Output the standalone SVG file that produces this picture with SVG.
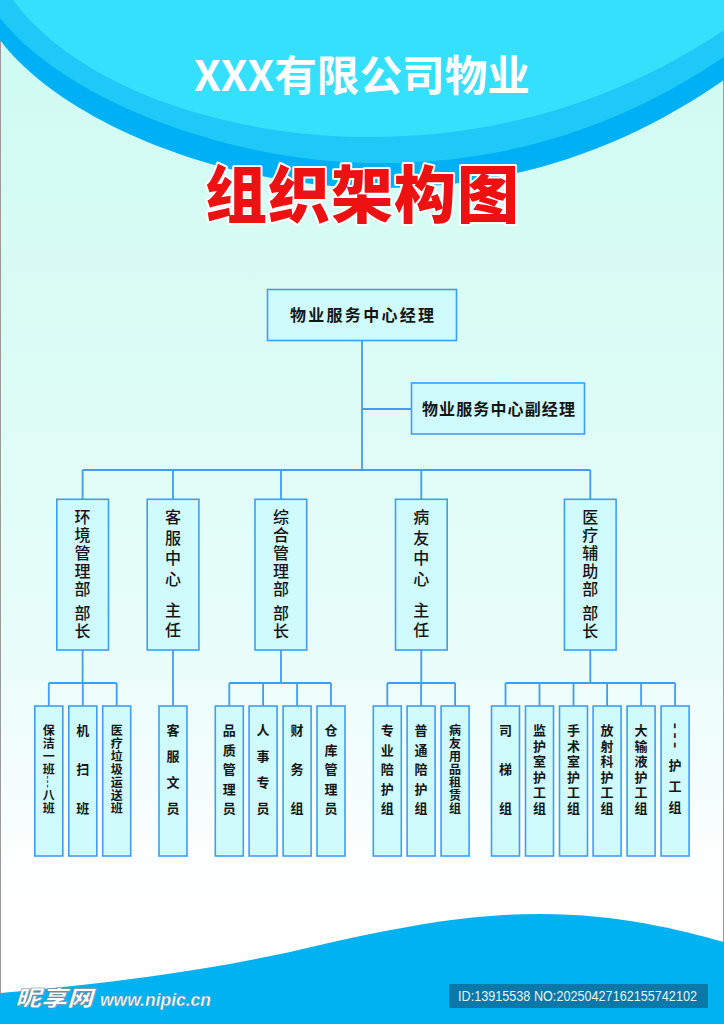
<svg xmlns="http://www.w3.org/2000/svg" width="724" height="1024" viewBox="0 0 724 1024">
<defs>
<linearGradient id="bg" x1="0" y1="0" x2="0" y2="1024" gradientUnits="userSpaceOnUse">
<stop offset="0" stop-color="#cdfbf1"/>
<stop offset="0.6" stop-color="#e6fdf9"/>
<stop offset="0.88" stop-color="#ffffff"/>
</linearGradient>
<style>
.box{fill:#d0fbfd;stroke:#3f9ef4;stroke-width:1.6}
.ln{fill:none;stroke:#3f9ef4;stroke-width:1.8}
.t1{font-family:"Noto Sans CJK SC","Liberation Sans",sans-serif;font-size:16px;font-weight:bold;fill:#151515}
.t2{font-family:"Noto Sans CJK SC","Liberation Sans",sans-serif;font-size:16px;font-weight:500;fill:#151515;text-anchor:middle}
.t3{font-family:"Noto Sans CJK SC","Liberation Sans",sans-serif;font-size:13px;font-weight:bold;fill:#151515;text-anchor:middle}
.t3s{font-family:"Noto Sans CJK SC","Liberation Sans",sans-serif;font-size:12px;font-weight:bold;fill:#151515;text-anchor:middle}
.dash{font-family:"Liberation Sans",sans-serif;font-weight:normal;fill:#151515;text-anchor:middle}
</style>
</defs>
<rect x="0" y="0" width="724" height="1024" fill="url(#bg)"/>
<rect x="0.5" y="0.5" width="723" height="1023" fill="none" stroke="#9a9a9a" stroke-width="1"/>
<!-- top decoration -->
<path d="M0,0 L0,40 C60,120 220,188 380,188 C520,188 630,145 724,80 L724,0 Z" fill="#00b0f4"/>
<path d="M0,0 L0,18 C60,95 220,163 380,163 C520,163 630,120 724,57 L724,0 Z" fill="#1ec9f8"/>
<path d="M13,0 C80,90 230,137 370,137 C500,137 620,100 724,30 L724,0 Z" fill="#35e0fc"/>
<text x="194" y="91" textLength="336" lengthAdjust="spacingAndGlyphs" font-family="Noto Sans CJK SC, Liberation Sans, sans-serif" font-size="42" font-weight="bold" fill="#ffffff">XXX有限公司物业</text>
<text x="205" y="218" textLength="314" lengthAdjust="spacing" font-family="Noto Sans CJK SC, sans-serif" font-size="62" font-weight="900" fill="#ee1111" stroke="#ffffff" stroke-width="4" paint-order="stroke" stroke-linejoin="round">组织架构图</text>
<!-- bottom decoration -->
<path d="M0,993 C150,980 250,962 320,945 C420,922 480,914 540,914 C620,914 680,930 724,942 L724,1024 L0,1024 Z" fill="#00b2f2"/>
<text x="15" y="1006" font-family="Noto Sans CJK SC, sans-serif" font-size="22" font-weight="900" fill="#ffffff" stroke="#6f8a99" stroke-width="0.6" font-style="italic" textLength="78" lengthAdjust="spacingAndGlyphs">昵享网</text>
<text x="100" y="1006" font-family="Liberation Sans, sans-serif" font-size="19" font-weight="bold" font-style="italic" fill="#ffffff" stroke="#6f8a99" stroke-width="0.4" textLength="111" lengthAdjust="spacingAndGlyphs">www.nipic.cn</text>
<rect x="449" y="984" width="259" height="24" rx="1" fill="#0a78a8"/>
<text x="458" y="1001" font-family="Liberation Sans, sans-serif" font-size="15" fill="#e6f4fa" textLength="239" lengthAdjust="spacingAndGlyphs">ID:13915538 NO:20250427162155742102</text>

<g id="connectors">
<path class="ln" d="M362,340 V470 M362,409 H411 M82.6,470 H590.3 M82.6,470 V499 M173,470 V499 M281,470 V499 M421.3,470 V499 M590.3,470 V499"/>
<path class="ln" d="M82.6,650 V683 M173,650 V706 M281,650 V683 M421.3,650 V683 M590.3,650 V683"/>
<path class="ln" d="M48.8,683 H116.7 M48.8,683 V706 M82.8,683 V706 M116.7,683 V706"/>
<path class="ln" d="M229.3,683 H331 M229.3,683 V706 M263.1,683 V706 M297.1,683 V706 M331,683 V706"/>
<path class="ln" d="M387.3,683 H455.1 M387.3,683 V706 M421.1,683 V706 M455.1,683 V706"/>
<path class="ln" d="M505.5,683 H675.1 M505.5,683 V706 M539.5,683 V706 M573.5,683 V706 M607.1,683 V706 M641.1,683 V706 M675.1,683 V706"/>
</g>

<g id="manager">
<rect class="box" x="267.5" y="289.5" width="189" height="51"/>
<text class="t1" x="290" y="321" textLength="144" lengthAdjust="spacing">物业服务中心经理</text>
</g>
<g id="vice-manager">
<rect class="box" x="411.5" y="383" width="173" height="51"/>
<text class="t1" x="422" y="415" textLength="153" lengthAdjust="spacing">物业服务中心副经理</text>
</g>

<g id="dept-env">
<rect class="box" x="56.8" y="499.3" width="51.7" height="150.7"/>
<text class="t2"><tspan x="82.6" y="523">环</tspan><tspan x="82.6" y="541">境</tspan><tspan x="82.6" y="559">管</tspan><tspan x="82.6" y="577">理</tspan><tspan x="82.6" y="595">部</tspan><tspan x="82.6" y="619">部</tspan><tspan x="82.6" y="637">长</tspan></text>
</g>
<g id="dept-service">
<rect class="box" x="147.2" y="499.3" width="51.7" height="150.7"/>
<text class="t2"><tspan x="173" y="523">客</tspan><tspan x="173" y="543.5">服</tspan><tspan x="173" y="564">中</tspan><tspan x="173" y="584.5">心</tspan><tspan x="173" y="616">主</tspan><tspan x="173" y="636">任</tspan></text>
</g>
<g id="dept-general">
<rect class="box" x="255" y="499.3" width="51.7" height="150.7"/>
<text class="t2"><tspan x="280.9" y="523">综</tspan><tspan x="280.9" y="541">合</tspan><tspan x="280.9" y="559">管</tspan><tspan x="280.9" y="577">理</tspan><tspan x="280.9" y="595">部</tspan><tspan x="280.9" y="619">部</tspan><tspan x="280.9" y="637">长</tspan></text>
</g>
<g id="dept-patient">
<rect class="box" x="395.5" y="499.3" width="51.7" height="150.7"/>
<text class="t2"><tspan x="421.3" y="523">病</tspan><tspan x="421.3" y="543.5">友</tspan><tspan x="421.3" y="564">中</tspan><tspan x="421.3" y="584.5">心</tspan><tspan x="421.3" y="616">主</tspan><tspan x="421.3" y="636">任</tspan></text>
</g>
<g id="dept-medical">
<rect class="box" x="564.4" y="499.3" width="51.7" height="150.7"/>
<text class="t2"><tspan x="590.3" y="523">医</tspan><tspan x="590.3" y="541">疗</tspan><tspan x="590.3" y="559">辅</tspan><tspan x="590.3" y="577">助</tspan><tspan x="590.3" y="595">部</tspan><tspan x="590.3" y="619">部</tspan><tspan x="590.3" y="637">长</tspan></text>
</g>

<!-- level 3 -->
<g id="n-cleaning">
<rect class="box" x="34.8" y="706" width="28" height="150"/>
<text class="t3s"><tspan x="48.8" y="734.5">保</tspan><tspan x="48.8" y="747.5">洁</tspan><tspan x="48.8" y="760.5">一</tspan><tspan x="48.8" y="773.5">班</tspan><tspan x="48.8" y="799.5">八</tspan><tspan x="48.8" y="812.5">班</tspan></text>
<text class="dash" x="48.8" y="785.4" font-size="11" letter-spacing="0.7" transform="rotate(90 48.8 782)">---</text>
</g>
<g id="n-machine">
<rect class="box" x="68.8" y="706" width="28" height="150"/>
<text class="t3"><tspan x="82.8" y="735">机</tspan><tspan x="82.8" y="774">扫</tspan><tspan x="82.8" y="813">班</tspan></text>
</g>
<g id="n-waste">
<rect class="box" x="102.7" y="706" width="28" height="150"/>
<text class="t3s"><tspan x="116.7" y="734.5">医</tspan><tspan x="116.7" y="747.5">疗</tspan><tspan x="116.7" y="760.5">垃</tspan><tspan x="116.7" y="773.5">圾</tspan><tspan x="116.7" y="786.5">运</tspan><tspan x="116.7" y="799.5">送</tspan><tspan x="116.7" y="812.5">班</tspan></text>
</g>
<g id="n-clerk">
<rect class="box" x="159" y="706" width="28" height="150"/>
<text class="t3"><tspan x="173" y="735">客</tspan><tspan x="173" y="761">服</tspan><tspan x="173" y="787">文</tspan><tspan x="173" y="813">员</tspan></text>
</g>
<g id="n-quality">
<rect class="box" x="215.3" y="706" width="28" height="150"/>
<text class="t3"><tspan x="229.3" y="735">品</tspan><tspan x="229.3" y="754.5">质</tspan><tspan x="229.3" y="774">管</tspan><tspan x="229.3" y="793.5">理</tspan><tspan x="229.3" y="813">员</tspan></text>
</g>
<g id="n-hr">
<rect class="box" x="249.1" y="706" width="28" height="150"/>
<text class="t3"><tspan x="263.1" y="735">人</tspan><tspan x="263.1" y="761">事</tspan><tspan x="263.1" y="787">专</tspan><tspan x="263.1" y="813">员</tspan></text>
</g>
<g id="n-finance">
<rect class="box" x="283.1" y="706" width="28" height="150"/>
<text class="t3"><tspan x="297.1" y="735">财</tspan><tspan x="297.1" y="774">务</tspan><tspan x="297.1" y="813">组</tspan></text>
</g>
<g id="n-warehouse">
<rect class="box" x="317" y="706" width="28" height="150"/>
<text class="t3"><tspan x="331" y="735">仓</tspan><tspan x="331" y="754.5">库</tspan><tspan x="331" y="774">管</tspan><tspan x="331" y="793.5">理</tspan><tspan x="331" y="813">员</tspan></text>
</g>
<g id="n-pro-care">
<rect class="box" x="373.3" y="706" width="28" height="150"/>
<text class="t3"><tspan x="387.3" y="735">专</tspan><tspan x="387.3" y="754.5">业</tspan><tspan x="387.3" y="774">陪</tspan><tspan x="387.3" y="793.5">护</tspan><tspan x="387.3" y="813">组</tspan></text>
</g>
<g id="n-gen-care">
<rect class="box" x="407.1" y="706" width="28" height="150"/>
<text class="t3"><tspan x="421.1" y="735">普</tspan><tspan x="421.1" y="754.5">通</tspan><tspan x="421.1" y="774">陪</tspan><tspan x="421.1" y="793.5">护</tspan><tspan x="421.1" y="813">组</tspan></text>
</g>
<g id="n-rental">
<rect class="box" x="441.1" y="706" width="28" height="150"/>
<text class="t3s"><tspan x="455.1" y="734.5">病</tspan><tspan x="455.1" y="747.5">友</tspan><tspan x="455.1" y="760.5">用</tspan><tspan x="455.1" y="773.5">品</tspan><tspan x="455.1" y="786.5">租</tspan><tspan x="455.1" y="799.5">赁</tspan><tspan x="455.1" y="812.5">组</tspan></text>
</g>
<g id="n-elevator">
<rect class="box" x="491.5" y="706" width="28" height="150"/>
<text class="t3"><tspan x="505.5" y="735">司</tspan><tspan x="505.5" y="774">梯</tspan><tspan x="505.5" y="813">组</tspan></text>
</g>
<g id="n-icu">
<rect class="box" x="525.5" y="706" width="28" height="150"/>
<text class="t3"><tspan x="539.5" y="735">监</tspan><tspan x="539.5" y="750.6">护</tspan><tspan x="539.5" y="766.2">室</tspan><tspan x="539.5" y="781.8">护</tspan><tspan x="539.5" y="797.4">工</tspan><tspan x="539.5" y="813">组</tspan></text>
</g>
<g id="n-or">
<rect class="box" x="559.5" y="706" width="28" height="150"/>
<text class="t3"><tspan x="573.5" y="735">手</tspan><tspan x="573.5" y="750.6">术</tspan><tspan x="573.5" y="766.2">室</tspan><tspan x="573.5" y="781.8">护</tspan><tspan x="573.5" y="797.4">工</tspan><tspan x="573.5" y="813">组</tspan></text>
</g>
<g id="n-radiology">
<rect class="box" x="593.1" y="706" width="28" height="150"/>
<text class="t3"><tspan x="607.1" y="735">放</tspan><tspan x="607.1" y="750.6">射</tspan><tspan x="607.1" y="766.2">科</tspan><tspan x="607.1" y="781.8">护</tspan><tspan x="607.1" y="797.4">工</tspan><tspan x="607.1" y="813">组</tspan></text>
</g>
<g id="n-infusion">
<rect class="box" x="627.1" y="706" width="28" height="150"/>
<text class="t3"><tspan x="641.1" y="735">大</tspan><tspan x="641.1" y="750.6">输</tspan><tspan x="641.1" y="766.2">液</tspan><tspan x="641.1" y="781.8">护</tspan><tspan x="641.1" y="797.4">工</tspan><tspan x="641.1" y="813">组</tspan></text>
</g>
<g id="n-other">
<rect class="box" x="661.1" y="706" width="28" height="150"/>
<text class="dash" x="675.1" y="743.2" font-size="20" letter-spacing="3" transform="rotate(90 675.1 737)">---</text>
<text class="t3"><tspan x="675.1" y="770">护</tspan><tspan x="675.1" y="791">工</tspan><tspan x="675.1" y="812">组</tspan></text>
</g>
</svg>
